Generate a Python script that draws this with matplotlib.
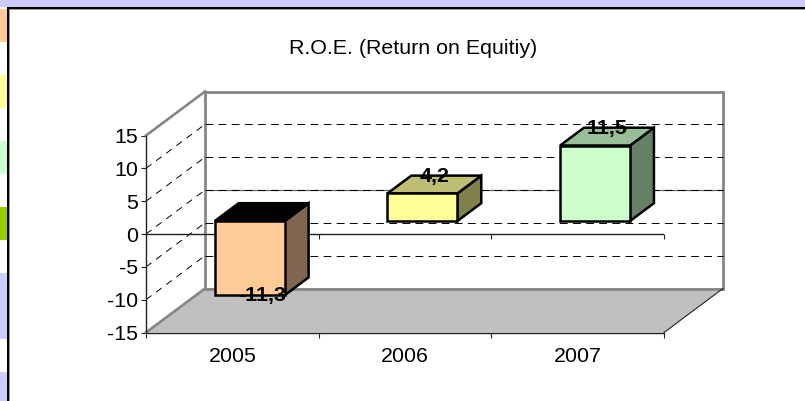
import matplotlib
matplotlib.use("Agg")
import matplotlib.pyplot as plt
from matplotlib.patches import Polygon, Rectangle

plt.rcParams['font.family'] = ['Liberation Sans', 'DejaVu Sans']

TITLE = "R.O.E. (Return on Equitiy)"
years = ["2005", "2006", "2007"]
values = [-11.3, 4.2, 11.5]
value_labels = ["-11,3", "4,2", "11,5"]
front_colors = ["#FFCC99", "#FFFF99", "#CCFFCC"]
top_colors = ["#000000", "#BFBF73", "#99BF99"]
side_colors = ["#806650", "#80804D", "#668066"]
yticks = [-15, -10, -5, 0, 5, 10, 15]
swatch_colors = ["#FFCC99", "#FFFFFF", "#FFFF99", "#FFFFFF", "#CCFFCC", "#FFFFFF",
                 "#99CC00", "#FFFFFF", "#CCCCFF", "#CCCCFF", "#FFFFFF", "#CCCCFF"]

W, H = 805, 401
FS = 15.4
fig = plt.figure(figsize=(W / 100, H / 100), dpi=100, facecolor="white")

# decoration: page strip and frame
def px_rect(x0, y0, x1, y1, **kw):
    fig.add_artist(Rectangle((x0 / W, 1 - y1 / H), (x1 - x0) / W, (y1 - y0) / H,
                             transform=fig.transFigure, lw=0, **kw))

px_rect(0, 0, W, 7, color="#CCCCFF")
for i, c in enumerate(swatch_colors):
    px_rect(0, 9 + i * 33, 7, 9 + (i + 1) * 33, color=c)
px_rect(7, 7, W, 8.5, color="black")
px_rect(7, 7, 8.5, H, color="black")
px_rect(8.5, 8.5, W, 9.5, color="#999999")
px_rect(8.5, 8.5, 9.5, H, color="#999999")

# the axes rectangle is the front plane of the 3D box
ax = fig.add_axes([146 / W, 1 - 332.5 / H, (664 - 146) / W, 197 / H], facecolor="none")
ax.set_xlim(-0.5, 2.5)
ax.set_ylim(-15, 15)

DX = 59 / (518 / 3)
DY = 44 / (197 / 30)

def proj(x, v, d=0.0):
    return (x + DX * d, v + DY * d)

x0, x1 = -0.5, 2.5
GRAY = "#868686"
ax.add_patch(Polygon([proj(x0, -15, 1), proj(x0, 15, 1), proj(x1, 15, 1), proj(x1, -15, 1)],
                     closed=True, fc="white", ec=GRAY, lw=2.0, clip_on=False, zorder=1))
ax.add_patch(Polygon([proj(x0, -15), proj(x0, -15, 1), proj(x1, -15, 1), proj(x1, -15)],
                     closed=True, fc="#C0C0C0", ec="none", clip_on=False, zorder=2))
ax.plot(*zip(proj(x0, 15), proj(x0, 15, 1)), color=GRAY, lw=1.9, clip_on=False, zorder=3)
ax.plot(*zip(proj(x0, -15), proj(x0, -15, 1)), color=GRAY, lw=1.9, clip_on=False, zorder=3)
ax.plot(*zip(proj(x0, -15, 1), proj(x1, -15, 1)), color=GRAY, lw=2.0, clip_on=False, zorder=3)
ax.plot(*zip(proj(x1, -15), proj(x1, -15, 1)), color="#222222", lw=0.8, clip_on=False, zorder=3)

DASH = (0, (8, 5.5))
for v in yticks[1:-1]:
    ax.plot(*zip(proj(x0, v), proj(x0, v, 1)), color="black", lw=0.7, ls=(0, (7, 6)),
            clip_on=False, zorder=2.5)
    ax.plot(*zip(proj(x0, v, 1), proj(x1, v, 1)), color="black", lw=0.7, ls=DASH,
            clip_on=False, zorder=2.5)
ax.plot(*zip(proj(x0, 0, 1), proj(x1, 0, 1)), color="#666666", lw=0.9, clip_on=False, zorder=2.4)

# zero axis with its ticks
ax.axhline(0, color="#222222", lw=1.0, zorder=3)
ax.vlines([0.5, 1.5, 2.5], -0.7, 0, color="#222222", lw=0.8, clip_on=False, zorder=3)

# 3D bars
BAR_W = 0.405
D0, D1 = 0.295, 0.70
for i, v in enumerate(values):
    l, r = i - BAR_W / 2, i + BAR_W / 2
    hi = max(v, 0)
    lo = min(v, 0)
    kw = dict(closed=True, ec="black", lw=1.8, joinstyle="miter", clip_on=False, zorder=4)
    ax.add_patch(Polygon([proj(r, lo, D0), proj(r, lo, D1), proj(r, hi, D1), proj(r, hi, D0)],
                         fc=side_colors[i], **kw))
    ax.add_patch(Polygon([proj(l, hi, D0), proj(l, hi, D1), proj(r, hi, D1), proj(r, hi, D0)],
                         fc=top_colors[i], **kw))
    ax.add_patch(Polygon([proj(l, lo, D0), proj(l, hi, D0), proj(r, hi, D0), proj(r, lo, D0)],
                         fc=front_colors[i], **kw))
    ax.annotate(value_labels[i], xy=proj(i, v, 0.5), xytext=(0, 8 if v > 0 else -9),
                textcoords="offset pixels", ha="center", va="center",
                fontsize=FS, fontweight="bold", color="black", zorder=6, annotation_clip=False)

# real axes furniture
for s in ("top", "right"):
    ax.spines[s].set_visible(False)
for s in ("left", "bottom"):
    ax.spines[s].set_color("#222222")
    ax.spines[s].set_linewidth(1.0)
    ax.spines[s].set_zorder(3.5)
ax.set_yticks(yticks)
ax.set_yticklabels([str(t) for t in yticks], fontsize=FS)
ax.set_xticks([-0.5, 0.5, 1.5, 2.5])
ax.set_xticklabels([])
ax.set_xticks(range(len(years)), labels=years, minor=True, fontsize=FS)
ax.tick_params(axis="x", which="minor", length=0, pad=10.5)
ax.tick_params(axis="both", which="major", length=3.5, width=0.8, color="#222222")
ax.tick_params(axis="y", pad=2)

fig.text(413.5 / W, 1 - 48 / H, TITLE, ha="center", va="center", fontsize=FS, color="black")

fig.savefig("out.png", dpi=100)
